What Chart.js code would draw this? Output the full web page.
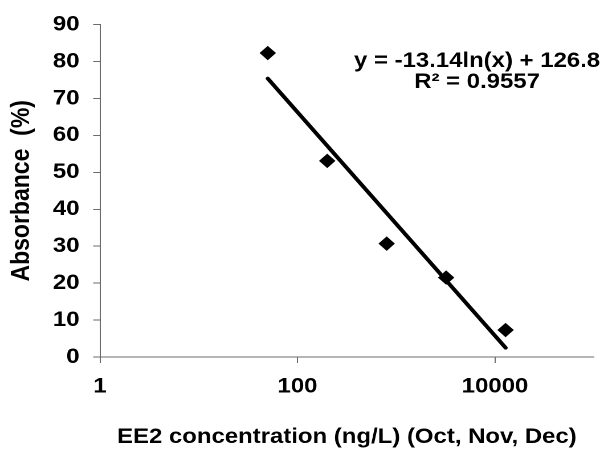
<!DOCTYPE html>
<html>
<head>
<meta charset="utf-8">
<script src="https://cdn.jsdelivr.net/npm/chart.js@4/dist/chart.umd.min.js"></script>
<style>
  html, body { margin: 0; padding: 0; background: #fff; }
  /* the reference is stretched horizontally, so draw narrower and stretch */
  #grafica { display: block; width: 604px; height: 450px; }
</style>
</head>
<body>
<canvas id="grafica" width="530" height="450" style="width:604px;height:450px"></canvas>
<script>
// datos
const xTicks = [1, 100, 10000];
const yTicks = [0, 10, 20, 30, 40, 50, 60, 70, 80, 90];
const concentracion = [50, 200, 800, 3200, 12800];
const absorbancia = [82.3, 53.1, 30.7, 21.5, 7.3];
const tendenciaX = [50, 12800];
const tendenciaY = [75.4, 2.5];
const ecuacion = ["y = -13.14ln(x) + 126.8", "R² = 0.9557"];

const FUENTE = "'Liberation Sans', Arial, sans-serif";
const COLOR_EJE = "#6b6b6b";

/**
 * Texto de la ecuacion de tendencia
 */
const pluginEcuacion = {
    id: "ecuacion",
    afterDraw(chart) {
        const ctx = chart.ctx;
        ctx.save();
        ctx.font = `bold 21px ${FUENTE}`;
        ctx.fillStyle = "#000";
        ctx.textAlign = "center";
        ctx.textBaseline = "middle";
        ctx.fillText(ecuacion[0], 418.6, 61);
        ctx.fillText(ecuacion[1], 418.6, 82);
        ctx.restore();
    },
};

const puntos = concentracion.map((x, i) => ({ x: x, y: absorbancia[i] }));
const linea = tendenciaX.map((x, i) => ({ x: x, y: tendenciaY[i] }));

new Chart(document.getElementById("grafica"), {
    type: "scatter",
    data: {
        datasets: [
            {
                type: "line",
                data: linea,
                borderColor: "#000",
                borderWidth: 3.6,
                borderCapStyle: "round",
                pointRadius: 0,
                fill: false,
            },
            {
                data: puntos,
                pointStyle: "rectRot",
                pointRadius: 6.5,
                backgroundColor: "#000",
                borderColor: "#000",
                borderWidth: 1,
            },
        ],
    },
    options: {
        responsive: false,
        devicePixelRatio: 2,
        animation: false,
        layout: { padding: { top: 20, right: 9, bottom: 0, left: 0 } },
        plugins: { legend: { display: false }, tooltip: { enabled: false } },
        scales: {
            x: {
                type: "logarithmic",
                min: 1,
                max: 100000,
                afterBuildTicks: (scale) => {
                    scale.ticks = xTicks.map((v) => ({ value: v }));
                },
                afterFit: (scale) => {
                    scale.height = 93;
                },
                ticks: {
                    autoSkip: false,
                    maxRotation: 0,
                    padding: 11,
                    color: "#000",
                    font: { family: FUENTE, size: 21, weight: "bold" },
                    callback: (v) => String(v),
                },
                grid: {
                    drawOnChartArea: false,
                    drawTicks: true,
                    tickLength: 6,
                    color: COLOR_EJE,
                },
                border: { display: true, color: COLOR_EJE, width: 1 },
                title: {
                    display: true,
                    text: "EE2 concentration (ng/L) (Oct, Nov, Dec)",
                    color: "#000",
                    font: { family: FUENTE, size: 21, weight: "bold" },
                    padding: { top: 0, bottom: 0 },
                },
            },
            y: {
                min: 0,
                max: 90,
                afterBuildTicks: (scale) => {
                    scale.ticks = yTicks.map((v) => ({ value: v }));
                },
                afterFit: (scale) => {
                    scale.width = 87.75;
                },
                ticks: {
                    padding: 12,
                    color: "#000",
                    font: { family: FUENTE, size: 21, weight: "bold" },
                },
                grid: {
                    drawOnChartArea: false,
                    drawTicks: true,
                    tickLength: 6,
                    color: COLOR_EJE,
                },
                border: { display: true, color: COLOR_EJE, width: 1 },
                title: {
                    display: true,
                    text: "Absorbance  (%)",
                    color: "#000",
                    font: { family: FUENTE, size: 23, weight: "bold" },
                    padding: { top: 5.5, bottom: 0 },
                },
            },
        },
    },
    plugins: [pluginEcuacion],
});
</script>
</body>
</html>
